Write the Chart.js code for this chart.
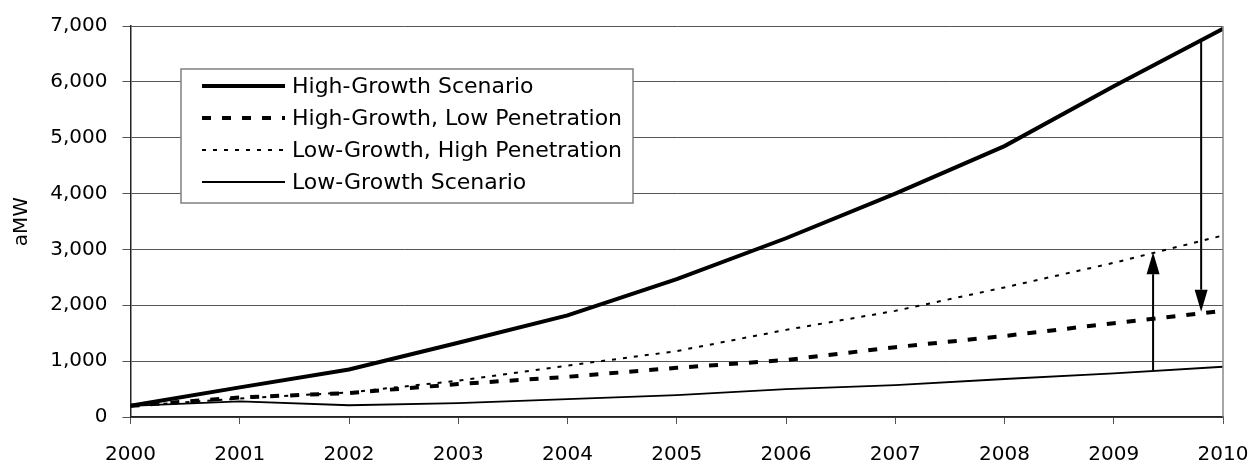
<!DOCTYPE html>
<html>
<head>
<meta charset="utf-8">
<script src="https://cdn.jsdelivr.net/npm/chart.js@4/dist/chart.umd.min.js"></script>
<style>
  html, body { margin: 0; padding: 0; background: #fff; }
</style>
</head>
<body>
<canvas id="grafico" width="1253" height="463"></canvas>
<script>
// DATA
const years = [2000, 2001, 2002, 2003, 2004, 2005, 2006, 2007, 2008, 2009, 2010];
const highGrowth = [200, 530, 850, 1330, 1820, 2470, 3200, 4000, 4850, 5920, 6950];
const highGrowthLowPen = [200, 350, 430, 590, 720, 880, 1020, 1250, 1450, 1680, 1900];
const lowGrowthHighPen = [200, 330, 440, 650, 920, 1180, 1560, 1900, 2320, 2760, 3250];
const lowGrowth = [200, 280, 210, 250, 320, 390, 500, 570, 680, 780, 900];
const seriesNames = [
  "High-Growth Scenario",
  "High-Growth, Low Penetration",
  "Low-Growth, High Penetration",
  "Low-Growth Scenario",
];
const yTicks = [0, 1000, 2000, 3000, 4000, 5000, 6000, 7000];

// arrows: [x (year), from value, to value]
const arrowUp = [2009.36, 830, 2950];
const arrowDown = [2009.8, 6720, 1885];

const FONT = '"DejaVu Sans", "Liberation Sans", Arial, sans-serif';

function toPoints(values) {
  return years.map((y, i) => ({ x: y, y: values[i] }));
}

// legend + frame + arrows drawn on top
const extrasPlugin = {
  id: "extras",
  afterDraw(chart) {
    const ctx = chart.ctx;
    const area = chart.chartArea;
    const xs = chart.scales.x;
    const ys = chart.scales.y;

    // right border of plot
    ctx.save();
    ctx.strokeStyle = "#888";
    ctx.lineWidth = 1.5;
    ctx.beginPath();
    ctx.moveTo(area.right, area.top);
    ctx.lineTo(area.right, area.bottom);
    ctx.stroke();
    ctx.restore();

    // legend box
    const lx = 181, ly = 69, lw = 452, lh = 134;
    ctx.save();
    ctx.fillStyle = "#fff";
    ctx.fillRect(lx, ly, lw, lh);
    ctx.strokeStyle = "#808080";
    ctx.lineWidth = 1.5;
    ctx.strokeRect(lx, ly, lw, lh);
    ctx.font = "22px " + FONT;
    ctx.textBaseline = "middle";
    ctx.fillStyle = "#000";
    chart.data.datasets.forEach((ds, i) => {
      const rowY = 86 + i * 32;
      ctx.save();
      ctx.strokeStyle = "#000";
      ctx.lineWidth = ds.borderWidth;
      ctx.setLineDash(ds.borderDash || []);
      ctx.beginPath();
      ctx.moveTo(202, rowY);
      ctx.lineTo(285, rowY);
      ctx.stroke();
      ctx.restore();
      ctx.fillText(ds.label, 292, rowY + 1);
    });
    ctx.restore();

    // arrows
    function arrow(a) {
      const x = xs.getPixelForValue(a[0]);
      const y0 = ys.getPixelForValue(a[1]);
      const y1 = ys.getPixelForValue(a[2]);
      const dir = y1 < y0 ? -1 : 1;
      const headLen = 22, headW = 6.5;
      ctx.save();
      ctx.strokeStyle = "#000";
      ctx.fillStyle = "#000";
      ctx.lineWidth = 2;
      ctx.beginPath();
      ctx.moveTo(x, y0);
      ctx.lineTo(x, y1 - dir * headLen);
      ctx.stroke();
      ctx.beginPath();
      ctx.moveTo(x, y1);
      ctx.lineTo(x - headW, y1 - dir * headLen);
      ctx.lineTo(x + headW, y1 - dir * headLen);
      ctx.closePath();
      ctx.fill();
      ctx.restore();
    }
    arrow(arrowUp);
    arrow(arrowDown);
  },
};

const ctxChart = document.getElementById("grafico");
const grafico = new Chart(ctxChart, {
  type: "line",
  data: {
    datasets: [
      {
        label: seriesNames[0],
        data: toPoints(highGrowth),
        borderColor: "#000",
        borderWidth: 4,
        pointRadius: 0,
      },
      {
        label: seriesNames[1],
        data: toPoints(highGrowthLowPen),
        borderColor: "#000",
        borderWidth: 4,
        borderDash: [9, 11],
        pointRadius: 0,
      },
      {
        label: seriesNames[2],
        data: toPoints(lowGrowthHighPen),
        borderColor: "#000",
        borderWidth: 2,
        borderDash: [4, 7],
        pointRadius: 0,
      },
      {
        label: seriesNames[3],
        data: toPoints(lowGrowth),
        borderColor: "#000",
        borderWidth: 1.8,
        pointRadius: 0,
      },
    ],
  },
  options: {
    responsive: false,
    animation: false,
    devicePixelRatio: 1,
    layout: { padding: { left: 10, right: 30, top: 26, bottom: 0 } },
    plugins: {
      legend: { display: false },
      tooltip: { enabled: false },
    },
    scales: {
      x: {
        type: "linear",
        min: years[0],
        max: years[years.length - 1],
        afterBuildTicks: (scale) => {
          scale.ticks = years.map((v) => ({ value: v }));
        },
        ticks: {
          callback: (v) => String(v),
          color: "#000",
          font: { family: FONT, size: 20 },
          padding: 19,
          maxRotation: 0,
        },
        grid: {
          drawOnChartArea: false,
          drawTicks: true,
          tickLength: 7,
          color: "#555",
        },
        border: { color: "#222", width: 1.5 },
        afterFit: (scale) => {
          scale.height = 46;
          scale.paddingLeft = 0;
          scale.paddingRight = 0;
        },
      },
      y: {
        min: 0,
        max: 7000,
        afterBuildTicks: (scale) => {
          scale.ticks = yTicks.map((v) => ({ value: v }));
        },
        ticks: {
          callback: (v) => v.toLocaleString("en-US"),
          color: "#000",
          font: { family: FONT, size: 20 },
          padding: 15,
        },
        grid: {
          color: "#555",
          lineWidth: 1,
          tickLength: 8,
        },
        border: { color: "#222", width: 1.5 },
        title: {
          display: true,
          text: "aMW",
          color: "#000",
          font: { family: FONT, size: 20 },
          padding: { top: 0, bottom: 0 },
        },
        afterFit: (scale) => {
          scale.width = 120.5;
          scale.paddingTop = 0;
          scale.paddingBottom = 0;
        },
      },
    },
  },
  plugins: [extrasPlugin],
});
</script>
</body>
</html>
